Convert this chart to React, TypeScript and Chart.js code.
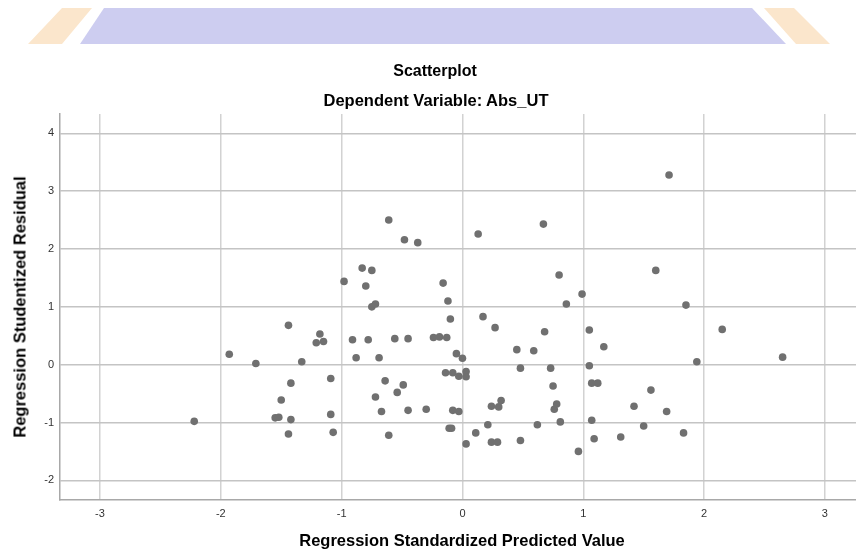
import React, { useEffect, useRef } from "react";
import { Chart, registerables } from "chart.js";

Chart.register(...registerables);

const titleText = "Scatterplot";
const subtitleText = "Dependent Variable: Abs_UT";
const xAxisTitle = "Regression Standardized Predicted Value";
const yAxisTitle = "Regression Studentized Residual";

const xTicks = [-3, -2, -1, 0, 1, 2, 3];
const yTicks = [-2, -1, 0, 1, 2, 3, 4];

const predicted = [
  -2.22, -1.93, -1.71, -1.44, -1.18, -1.21, -1.15, -1.33, -1.42, -1.09,
  -1.50, -1.55, -1.52, -1.42, -1.44, -1.09, -1.07, -0.75, -0.72, -0.91,
  -0.78, -0.56, -0.88, -0.69, -0.64, -0.54, -0.72, -0.67, -0.61, -0.12,
  -0.10, 0.17, 0.27, 0.68, 0.86, 1.05, 1.17, -0.45, -0.24, -0.19,
  -0.13, -0.05, 0.0, 0.45, 0.59, 0.48, 0.73, 1.05, -0.14, -0.08,
  -0.03, 0.03, 0.03, 0.75, -0.49, -0.45, -0.30, -0.08, -0.03, 0.24,
  0.30, 0.32, 0.76, 0.78, 0.81, 1.07, 1.12, 1.07, 1.09, 0.96,
  0.62, 0.48, 0.24, 0.29, 0.21, 0.11, 0.03, -0.11, -0.09, 1.85,
  2.15, 2.65, 1.94, 1.56, 1.42, 1.69, 1.50, 1.31, 1.83, 1.71,
  1.60, -0.48, -0.37, 0.13, 0.67, -0.16, 0.80, 0.99, -0.61, -0.83,
  -0.75, -0.98, -0.80,
];

const residual = [
  -0.98, 0.18, 0.02, 0.68, 0.53, 0.38, 0.40, 0.05, -0.32, -0.24,
  -0.61, -0.92, -0.91, -0.95, -1.20, -0.86, -1.17, 1.00, 1.05, 0.43,
  0.43, 0.45, 0.12, 0.12, -0.28, -0.48, -0.56, -0.81, -1.22, 1.10,
  0.79, 0.83, 0.64, 0.57, 1.05, 0.60, 0.31, 0.45, 0.47, 0.48,
  0.47, 0.19, 0.11, 0.26, 0.24, -0.06, -0.06, -0.02, -0.14, -0.14,
  -0.20, -0.12, -0.21, -0.37, -0.35, -0.79, -0.77, -0.79, -0.81, -0.72,
  -0.73, -0.62, -0.77, -0.68, -0.99, -0.32, -0.32, -0.96, -1.28, -1.50,
  -1.04, -1.31, -1.34, -1.34, -1.04, -1.18, -1.37, -1.10, -1.10, 1.03,
  0.61, 0.13, 0.05, -0.44, -0.72, -0.81, -1.06, -1.25, -1.18, 3.28,
  1.63, 2.16, 2.11, 2.26, 2.43, 1.41, 1.55, 1.22, 2.50, 1.67,
  1.63, 1.44, 1.36,
];

const FONT = "'Liberation Sans', Arial, sans-serif";

export default function App() {
  const canvasRef = useRef<HTMLCanvasElement | null>(null);

  useEffect(() => {
    const ctx = canvasRef.current;
    if (!ctx) return;
    const points = predicted.map((x, i) => ({ x, y: residual[i] }));
    const chart = new Chart(ctx, {
      type: "scatter",
      data: {
        datasets: [
          {
            data: points,
            backgroundColor: "#707070",
            borderWidth: 0,
            pointRadius: 3.8,
            pointHoverRadius: 3.8,
          },
        ],
      },
      options: {
        responsive: false,
        animation: false,
        events: [],
        layout: { padding: { top: 114, left: 0, right: 0, bottom: 0 } },
        plugins: {
          legend: { display: false },
          tooltip: { enabled: false },
          title: { display: false },
        },
        scales: {
          x: {
            type: "linear",
            min: -3.331,
            max: 3.259,
            afterFit: (scale: any) => {
              scale.height = 54;
            },
            afterBuildTicks: (scale: any) => {
              scale.ticks = xTicks.map((v) => ({ value: v }));
            },
            ticks: {
              font: { family: FONT, size: 11 },
              color: "#333333",
              padding: 7,
              maxRotation: 0,
              callback: (v: any) => String(v),
            },
            grid: {
              color: "#d2d2d2",
              lineWidth: 1.5,
              drawTicks: false,
            },
            border: { color: "#a8a8a8", width: 1.5 },
          },
          y: {
            type: "linear",
            min: -2.34,
            max: 4.334,
            afterFit: (scale: any) => {
              scale.width = 60;
            },
            afterBuildTicks: (scale: any) => {
              scale.ticks = yTicks.map((v) => ({ value: v }));
            },
            ticks: {
              font: { family: FONT, size: 11 },
              color: "#333333",
              padding: 6,
              callback: (v: any) => String(v),
            },
            grid: {
              color: "#c4c4c4",
              lineWidth: 1.5,
              drawTicks: false,
            },
            border: { color: "#a8a8a8", width: 1.5 },
          },
        },
      },
    });
    return () => chart.destroy();
  }, []);

  const bold = { fontFamily: FONT, fontWeight: 700, color: "#000", position: "absolute" as const, whiteSpace: "nowrap" as const };

  return (
    <div style={{ position: "fixed", left: 0, top: 0, width: 856, height: 554, background: "#fff", overflow: "hidden" }}>
      <div
        style={{
          position: "absolute",
          left: 0,
          top: 8,
          width: 856,
          height: 36,
          background: "#fbe6cc",
          clipPath: "polygon(62px 0, 92px 0, 62px 100%, 28px 100%)",
        }}
      />
      <div
        style={{
          position: "absolute",
          left: 0,
          top: 8,
          width: 856,
          height: 36,
          background: "#fbe6cc",
          clipPath: "polygon(764px 0, 794px 0, 830px 100%, 796px 100%)",
        }}
      />
      <div
        style={{
          position: "absolute",
          left: 0,
          top: 8,
          width: 856,
          height: 36,
          background: "#cdcdf0",
          clipPath: "polygon(104px 0, 752px 0, 786px 100%, 80px 100%)",
        }}
      />
      <canvas ref={canvasRef} width={860} height={554} style={{ position: "absolute", left: 0, top: 0 }} />
      <div style={{ ...bold, left: 435, top: 62, transform: "translateX(-50%)", fontSize: 16 }}>{titleText}</div>
      <div style={{ ...bold, left: 436, top: 91, transform: "translateX(-50%)", fontSize: 16.5 }}>{subtitleText}</div>
      <div style={{ ...bold, left: 462, top: 531, transform: "translateX(-50%)", fontSize: 16.5 }}>{xAxisTitle}</div>
      <div
        style={{
          ...bold,
          left: 20,
          top: 307,
          transform: "translate(-50%, -50%) rotate(-90deg)",
          fontSize: 16.5,
        }}
      >
        {yAxisTitle}
      </div>
    </div>
  );
}
